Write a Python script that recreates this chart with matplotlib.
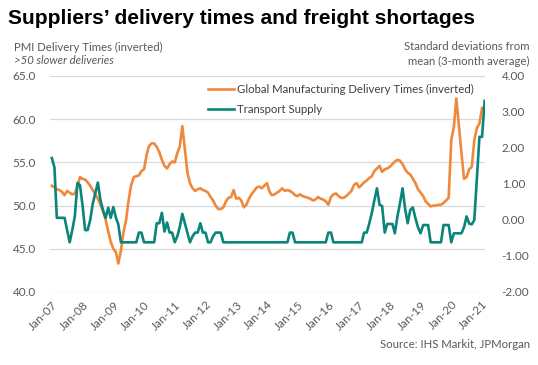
import matplotlib
matplotlib.use('Agg')
import matplotlib.pyplot as plt
import matplotlib.dates as mdates
from matplotlib.ticker import FormatStrFormatter, MultipleLocator
from matplotlib.lines import Line2D
import pandas as pd

# Global manufacturing PMI delivery times (inverted), monthly from Jan-07
delivery = [
    52.3, 52.1, 51.9, 51.8, 51.6, 51.2, 51.7, 51.5, 51.3, 51.4,
    52.2, 53.3, 53.1, 53.0, 52.7, 52.3, 51.8, 51.3, 50.8, 50.1,
    49.3, 48.4, 47.0, 45.8, 45.0, 44.6, 43.3, 44.8, 46.9, 48.3,
    50.6, 52.4, 53.3, 53.4, 53.5, 54.0, 54.2, 55.9, 56.9, 57.2,
    57.2, 56.8, 56.2, 55.3, 54.6, 54.3, 54.8, 55.1, 55.0, 56.1,
    56.8, 59.2, 56.5, 53.8, 52.6, 52.0, 51.7, 51.9, 52.0, 51.8,
    51.7, 51.5, 51.0, 50.6, 50.0, 49.6, 49.6, 49.8, 50.5, 50.9,
    51.0, 51.8, 50.8, 50.9, 50.6, 49.8, 50.1, 50.8, 51.3, 51.7,
    52.1, 52.2, 52.0, 52.3, 52.6, 51.6, 51.2, 51.3, 51.5, 51.7,
    52.0, 51.7, 51.8, 51.7, 51.5, 51.2, 51.1, 51.3, 51.1, 51.0,
    50.9, 50.8, 50.6, 50.7, 51.0, 50.8, 50.7, 50.5, 50.1, 51.0,
    51.3, 51.4, 51.1, 50.9, 50.9, 51.1, 51.4, 51.7, 52.4, 52.6,
    52.1, 52.4, 52.7, 52.9, 53.2, 53.4, 54.0, 54.3, 54.6, 53.9,
    54.2, 54.3, 54.5, 54.8, 55.1, 55.3, 55.2, 54.8, 54.2, 53.8,
    53.6, 53.1, 52.6, 51.9, 51.5, 51.1, 50.5, 50.2, 49.9, 50.0,
    50.0, 50.1, 50.1, 50.3, 50.6, 50.9, 57.6, 59.1, 62.4, 59.2,
    56.1, 53.1, 53.3, 54.2, 54.5, 57.6, 59.0, 59.5, 61.3,
]

# Transport supply, standard deviations from mean (3-month average)
transport = [
    1.72, 1.46, 0.06, 0.06, 0.06, 0.06, -0.28, -0.62, -0.28, 0.10,
    1.03, 0.97, 0.40, -0.28, -0.28, 0.00, 0.45, 0.75, 1.04, 0.55,
    0.27, 0.06, 0.34, 0.06, 0.36, 0.06, -0.12, -0.62, -0.62, -0.62,
    -0.62, -0.62, -0.62, -0.62, -0.35, -0.35, -0.62, -0.62, -0.62, -0.62,
    -0.62, -0.09, -0.09, 0.20, -0.32, -0.07, -0.35, -0.35, -0.62, -0.45,
    -0.20, 0.17, -0.09, -0.35, -0.62, -0.45, -0.35, -0.35, -0.09, -0.35,
    -0.35, -0.62, -0.62, -0.45, -0.35, -0.35, -0.35, -0.62, -0.62, -0.62,
    -0.62, -0.62, -0.62, -0.62, -0.62, -0.62, -0.62, -0.62, -0.62, -0.62,
    -0.62, -0.62, -0.62, -0.62, -0.62, -0.62, -0.62, -0.62, -0.62, -0.62,
    -0.62, -0.62, -0.62, -0.35, -0.35, -0.62, -0.62, -0.62, -0.62, -0.62,
    -0.62, -0.62, -0.62, -0.62, -0.62, -0.62, -0.62, -0.62, -0.35, -0.35,
    -0.62, -0.62, -0.62, -0.62, -0.62, -0.62, -0.62, -0.62, -0.62, -0.62,
    -0.62, -0.62, -0.35, -0.35, -0.10, 0.20, 0.55, 0.88, 0.42, 0.39,
    -0.35, -0.11, -0.11, -0.11, -0.37, 0.10, 0.46, 0.88, 0.32, -0.09,
    0.28, 0.35, 0.05, -0.20, -0.37, -0.14, -0.14, -0.14, -0.62, -0.62,
    -0.62, -0.62, -0.62, -0.14, -0.14, -0.14, -0.62, -0.37, -0.37, -0.37,
    -0.37, -0.20, 0.10, -0.10, -0.12, 0.00, 1.15, 2.31, 2.31, 3.31,
]

labels = ["Global Manufacturing Delivery Times (inverted)", "Transport Supply"]
years = list(range(2007, 2022))

ORANGE = '#f0883c'
TEAL = '#0b857a'
GREY = '#595959'

plt.rcParams['font.family'] = ['Lato', 'DejaVu Sans']

d_dates = pd.date_range('2007-01-01', periods=len(delivery), freq='MS')
t_dates = pd.date_range('2007-01-01', periods=len(transport), freq='MS')

fig = plt.figure(figsize=(5.38, 3.65), dpi=100)
ax = fig.add_axes([50 / 538, 1 - 292 / 365, 435 / 538, 216 / 365])
ax2 = ax.twinx()

ax.plot(d_dates, delivery, color=ORANGE, lw=1.9, solid_joinstyle='round')
ax2.plot(t_dates, transport, color=TEAL, lw=1.9, solid_joinstyle='round')

ax.set_ylim(40, 65)
ax.yaxis.set_major_locator(MultipleLocator(5))
ax.yaxis.set_major_formatter(FormatStrFormatter('%.1f'))
ax2.set_ylim(-2, 4)
ax2.yaxis.set_major_locator(MultipleLocator(1))
ax2.yaxis.set_major_formatter(FormatStrFormatter('%.2f'))

ax.set_xlim(pd.Timestamp('2006-12-10'), pd.Timestamp('2021-02-05'))
ax.set_xticks([pd.Timestamp(f'{y}-01-01') for y in years])
ax.xaxis.set_major_formatter(mdates.DateFormatter('%b-%y'))

ax.grid(axis='y', color='#d9d9d9', lw=0.9)
ax.set_axisbelow(True)
for a in (ax, ax2):
    for s in a.spines.values():
        s.set_visible(False)
    a.tick_params(length=0, colors=GREY, labelsize=8.5)
ax.tick_params(axis='y', pad=10)
ax2.tick_params(axis='y', pad=12)
plt.setp(ax.get_xticklabels(), rotation=45, ha='right', rotation_mode='anchor')
ax.tick_params(axis='x', pad=5)

fig.text(8 / 538, 1 - 18 / 365, "Suppliers\u2019 delivery times and freight shortages",
         family=['Liberation Sans', 'DejaVu Sans'], weight='bold', fontsize=15.1,
         va='center', ha='left', color='black')
fig.text(14 / 538, 1 - 47 / 365, "PMI Delivery Times (inverted)", fontsize=8.2,
         color=GREY, va='center')
fig.text(14 / 538, 1 - 61 / 365, ">50 slower deliveries", fontsize=8.2,
         color=GREY, va='center', style='italic')
fig.text(530 / 538, 1 - 47 / 365, "Standard deviations from", fontsize=8.2,
         color=GREY, va='center', ha='right')
fig.text(530 / 538, 1 - 61 / 365, "mean (3-month average)", fontsize=8.2,
         color=GREY, va='center', ha='right')
fig.text(530 / 538, 1 - 345 / 365, "Source: IHS Markit, JPMorgan", fontsize=8.2,
         color=GREY, va='center', ha='right')

handles = [Line2D([], [], color=ORANGE, lw=1.9), Line2D([], [], color=TEAL, lw=1.9)]
fig.legend(handles, labels, loc='upper left', bbox_to_anchor=(198 / 538, 1 - 74 / 365),
           frameon=False, fontsize=8.2, handlelength=2.3, handletextpad=0.2,
           labelspacing=0.75, labelcolor='#404040')

fig.savefig('out.png', dpi=100)
